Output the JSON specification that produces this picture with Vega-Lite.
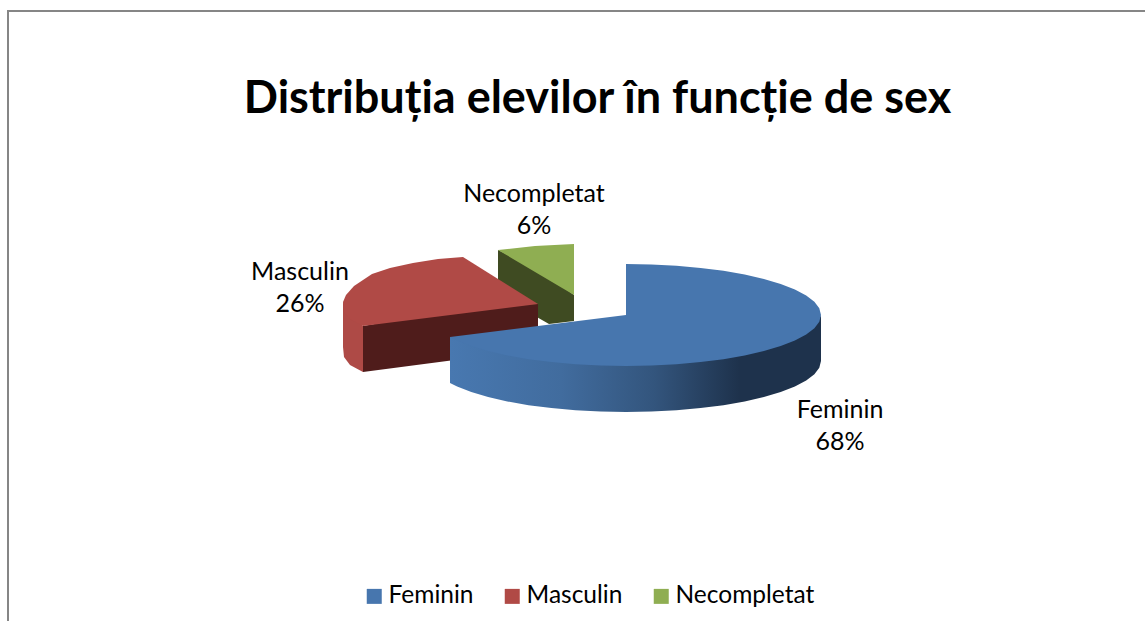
{"$schema":"https://vega.github.io/schema/vega-lite/v6.json","width":1145,"height":621,"padding":0,"autosize":{"type":"none"},"background":"white","title":{"text":"Distribuția elevilor în funcție de sex","font":"Lato","fontSize":45,"fontWeight":"bold","color":"#000000","anchor":"middle","baseline":"alphabetic","offset":0,"dx":25,"dy":158},"config":{"view":{"stroke":null}},"datasets":{"frame":[{"i":0,"x":8,"y":621},{"i":1,"x":8,"y":11},{"i":2,"x":1145,"y":11}],"greenDark":[{"i":0,"x":498,"y":250},{"i":1,"x":540,"y":270},{"i":2,"x":574,"y":295},{"i":3,"x":574,"y":321},{"i":4,"x":549,"y":324},{"i":5,"x":535,"y":316},{"i":6,"x":498,"y":290}],"redSide":[{"i":0,"x":343,"y":302},{"i":1,"x":347,"y":309},{"i":2,"x":353,"y":316},{"i":3,"x":363,"y":326},{"i":4,"x":363,"y":372},{"i":5,"x":350,"y":365},{"i":6,"x":344,"y":357},{"i":7,"x":343,"y":347}],"redFront":[{"i":0,"x":363,"y":326},{"i":1,"x":450,"y":311},{"i":2,"x":538,"y":304},{"i":3,"x":538,"y":349},{"i":4,"x":363,"y":372}],"blueSide":[{"i":0,"x":821,"y":315},{"i":1,"x":819.3,"y":318.7},{"i":2,"x":814.4,"y":325.2},{"i":3,"x":806.2,"y":331.5},{"i":4,"x":794.9,"y":337.5},{"i":5,"x":780.7,"y":343},{"i":6,"x":763.9,"y":348.1},{"i":7,"x":744.7,"y":352.5},{"i":8,"x":723.5,"y":356.2},{"i":9,"x":700.6,"y":359.1},{"i":10,"x":676.5,"y":361.3},{"i":11,"x":651.4,"y":362.6},{"i":12,"x":626,"y":363},{"i":13,"x":600.6,"y":362.6},{"i":14,"x":575.5,"y":361.3},{"i":15,"x":551.4,"y":359.1},{"i":16,"x":528.5,"y":356.2},{"i":17,"x":507.3,"y":352.5},{"i":18,"x":488.1,"y":348.1},{"i":19,"x":471.3,"y":343},{"i":20,"x":457.1,"y":337.5},{"i":21,"x":450,"y":337},{"i":22,"x":450,"y":383},{"i":23,"x":457.1,"y":386.5},{"i":24,"x":471.3,"y":392},{"i":25,"x":488.1,"y":397.1},{"i":26,"x":507.3,"y":401.5},{"i":27,"x":528.5,"y":405.2},{"i":28,"x":551.4,"y":408.1},{"i":29,"x":575.5,"y":410.3},{"i":30,"x":600.6,"y":411.6},{"i":31,"x":626,"y":412},{"i":32,"x":651.4,"y":411.6},{"i":33,"x":676.5,"y":410.3},{"i":34,"x":700.6,"y":408.1},{"i":35,"x":723.5,"y":405.2},{"i":36,"x":744.7,"y":401.5},{"i":37,"x":763.9,"y":397.1},{"i":38,"x":780.7,"y":392},{"i":39,"x":794.9,"y":386.5},{"i":40,"x":806.2,"y":380.5},{"i":41,"x":814.4,"y":374.2},{"i":42,"x":819.3,"y":367.7},{"i":43,"x":821,"y":361}],"tops":[{"cat":"Feminin","i":0,"x":626,"y":264},{"cat":"Feminin","i":1,"x":651.4,"y":264.4},{"cat":"Feminin","i":2,"x":676.5,"y":265.7},{"cat":"Feminin","i":3,"x":700.6,"y":267.9},{"cat":"Feminin","i":4,"x":723.5,"y":270.8},{"cat":"Feminin","i":5,"x":744.7,"y":274.5},{"cat":"Feminin","i":6,"x":763.9,"y":278.9},{"cat":"Feminin","i":7,"x":780.7,"y":284},{"cat":"Feminin","i":8,"x":794.9,"y":289.5},{"cat":"Feminin","i":9,"x":806.2,"y":295.5},{"cat":"Feminin","i":10,"x":814.4,"y":301.8},{"cat":"Feminin","i":11,"x":819.3,"y":308.3},{"cat":"Feminin","i":12,"x":821,"y":315},{"cat":"Feminin","i":13,"x":819.3,"y":321.7},{"cat":"Feminin","i":14,"x":814.4,"y":328.2},{"cat":"Feminin","i":15,"x":806.2,"y":334.5},{"cat":"Feminin","i":16,"x":794.9,"y":340.5},{"cat":"Feminin","i":17,"x":780.7,"y":346},{"cat":"Feminin","i":18,"x":763.9,"y":351.1},{"cat":"Feminin","i":19,"x":744.7,"y":355.5},{"cat":"Feminin","i":20,"x":723.5,"y":359.2},{"cat":"Feminin","i":21,"x":700.6,"y":362.1},{"cat":"Feminin","i":22,"x":676.5,"y":364.3},{"cat":"Feminin","i":23,"x":651.4,"y":365.6},{"cat":"Feminin","i":24,"x":626,"y":366},{"cat":"Feminin","i":25,"x":600.6,"y":365.6},{"cat":"Feminin","i":26,"x":575.5,"y":364.3},{"cat":"Feminin","i":27,"x":551.4,"y":362.1},{"cat":"Feminin","i":28,"x":528.5,"y":359.2},{"cat":"Feminin","i":29,"x":507.3,"y":355.5},{"cat":"Feminin","i":30,"x":488.1,"y":351.1},{"cat":"Feminin","i":31,"x":471.3,"y":346},{"cat":"Feminin","i":32,"x":457.1,"y":340.5},{"cat":"Feminin","i":33,"x":450,"y":337},{"cat":"Feminin","i":34,"x":626,"y":315},{"cat":"Masculin","i":0,"x":463,"y":257},{"cat":"Masculin","i":1,"x":438,"y":259},{"cat":"Masculin","i":2,"x":413,"y":263},{"cat":"Masculin","i":3,"x":390,"y":268},{"cat":"Masculin","i":4,"x":372,"y":274},{"cat":"Masculin","i":5,"x":354,"y":286},{"cat":"Masculin","i":6,"x":346,"y":295},{"cat":"Masculin","i":7,"x":343,"y":302},{"cat":"Masculin","i":8,"x":344,"y":312},{"cat":"Masculin","i":9,"x":350,"y":319},{"cat":"Masculin","i":10,"x":363,"y":326},{"cat":"Masculin","i":11,"x":538,"y":304},{"cat":"Necompletat","i":0,"x":498,"y":250},{"cat":"Necompletat","i":1,"x":535,"y":246},{"cat":"Necompletat","i":2,"x":574,"y":244},{"cat":"Necompletat","i":3,"x":574,"y":295}],"labels":[{"cat":"Necompletat","share":0.06,"cx":534,"nameY":202,"pctY":234},{"cat":"Masculin","share":0.26,"cx":300,"nameY":280,"pctY":312},{"cat":"Feminin","share":0.68,"cx":840,"nameY":418,"pctY":450}]},"layer":[{"data":{"name":"frame"},"mark":{"type":"line","stroke":"#868686","strokeWidth":2,"strokeCap":"butt"},"encoding":{"x":{"field":"x","type":"quantitative","scale":{"domain":[0,1145],"nice":false,"zero":false},"axis":null},"y":{"field":"y","type":"quantitative","scale":{"domain":[621,0],"nice":false,"zero":false},"axis":null},"order":{"field":"i"}}},{"data":{"name":"greenDark"},"mark":{"type":"line","fill":"#3F4B22","stroke":null},"encoding":{"x":{"field":"x","type":"quantitative","axis":null},"y":{"field":"y","type":"quantitative","axis":null},"order":{"field":"i"}}},{"data":{"name":"redSide"},"mark":{"type":"line","fill":"#AE4A46","stroke":null},"encoding":{"x":{"field":"x","type":"quantitative","axis":null},"y":{"field":"y","type":"quantitative","axis":null},"order":{"field":"i"}}},{"data":{"name":"redFront"},"mark":{"type":"line","fill":"#4F1C1B","stroke":null},"encoding":{"x":{"field":"x","type":"quantitative","axis":null},"y":{"field":"y","type":"quantitative","axis":null},"order":{"field":"i"}}},{"data":{"name":"blueSide"},"mark":{"type":"line","stroke":null,"fill":{"gradient":"linear","x1":0,"y1":0,"x2":1,"y2":0,"stops":[{"offset":0,"color":"#4878B0"},{"offset":0.3,"color":"#416C9E"},{"offset":0.55,"color":"#33557D"},{"offset":0.78,"color":"#1E324C"},{"offset":1,"color":"#1E324C"}]}},"encoding":{"x":{"field":"x","type":"quantitative","axis":null},"y":{"field":"y","type":"quantitative","axis":null},"order":{"field":"i"}}},{"data":{"name":"tops"},"mark":{"type":"line","stroke":null},"encoding":{"x":{"field":"x","type":"quantitative","axis":null},"y":{"field":"y","type":"quantitative","axis":null},"order":{"field":"i"},"fill":{"field":"cat","type":"nominal","scale":{"domain":["Feminin","Masculin","Necompletat"],"range":["#4776AE","#B04A46","#8FAE52"]},"legend":{"title":null,"orient":"none","legendX":362,"legendY":584,"direction":"horizontal","symbolType":"square","symbolSize":225,"symbolStrokeWidth":0,"labelFont":"Lato","labelFontSize":24.5,"labelColor":"#000000","labelOffset":2,"columnPadding":26,"encode":{"symbols":{"update":{"fill":{"signal":"{'Feminin':'#4F81BD','Masculin':'#C0504D','Necompletat':'#9BBB59'}[datum.value]"}}}}}}}},{"data":{"name":"labels"},"mark":{"type":"text","font":"Lato","fontSize":25,"align":"center","baseline":"alphabetic","color":"#000000"},"encoding":{"x":{"field":"cx","type":"quantitative","axis":null},"y":{"field":"nameY","type":"quantitative","axis":null},"text":{"field":"cat"}}},{"data":{"name":"labels"},"mark":{"type":"text","font":"Lato","fontSize":25,"align":"center","baseline":"alphabetic","color":"#000000"},"encoding":{"x":{"field":"cx","type":"quantitative","axis":null},"y":{"field":"pctY","type":"quantitative","axis":null},"text":{"field":"share","format":".0%"}}}]}
